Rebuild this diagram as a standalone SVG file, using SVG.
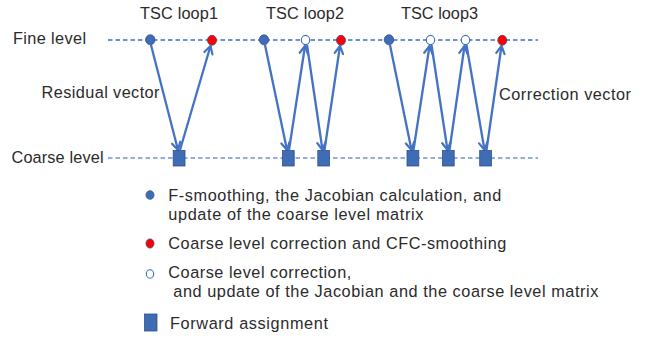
<svg xmlns="http://www.w3.org/2000/svg" width="648" height="338" viewBox="0 0 648 338">
  <style>
    .t { font-family: "Liberation Sans", Arial, sans-serif; font-size: 16.3px; fill: #2b2b2b; }
    .fine { stroke: #3F6EC0; stroke-width: 1.3; stroke-dasharray: 4.5 3; fill: none; }
    .coarse { stroke: #6F93D3; stroke-width: 1.3; stroke-dasharray: 4.5 3; fill: none; }
    .arr { stroke: #4472C4; stroke-width: 2.3; fill: none; marker-end: url(#ah); }
    .fb { fill: #3E6DB6; stroke: #2F528F; stroke-width: 0.8; }
    .fr { fill: #FF0000; stroke: #2F528F; stroke-width: 0.8; }
    .fo { fill: #FFFFFF; stroke: #3E6DB6; stroke-width: 1.1; }
    .sq { fill: #3E6DB6; stroke: #2F528F; stroke-width: 0.8; }
  </style>
  <defs>
    <marker id="ah" markerUnits="userSpaceOnUse" markerWidth="14" markerHeight="14" viewBox="-10 -7 14 14" refX="0" refY="0" orient="auto">
      <path d="M-7.5,-4.2 L0,0 L-7.5,4.2" fill="none" stroke="#4472C4" stroke-width="2.2" stroke-linejoin="round" stroke-linecap="round"/>
    </marker>
  </defs>
  <rect width="648" height="338" fill="#FFFFFF"/>

  <g id="labels">
    <text class="t" x="140" y="19" textLength="78" lengthAdjust="spacing">TSC loop1</text>
    <text class="t" x="266" y="19" textLength="78" lengthAdjust="spacing">TSC loop2</text>
    <text class="t" x="401" y="19" textLength="77" lengthAdjust="spacing">TSC loop3</text>
    <text class="t" x="13" y="44" textLength="73" lengthAdjust="spacing">Fine level</text>
    <text class="t" x="11.5" y="163" textLength="92" lengthAdjust="spacing">Coarse level</text>
    <text class="t" x="41.5" y="98" textLength="118" lengthAdjust="spacing">Residual vector</text>
    <text class="t" x="499" y="99.5" textLength="132" lengthAdjust="spacing">Correction vector</text>
  </g>

  <g id="levels">
    <line class="fine" x1="108" y1="40" x2="538" y2="40"/>
    <line class="coarse" x1="108" y1="158" x2="538" y2="158"/>
  </g>

  <g id="connectors">
    <line class="arr" x1="151" y1="45" x2="178" y2="150"/>
    <line class="arr" x1="180" y1="150" x2="210.5" y2="46"/>
    <line class="arr" x1="265" y1="45" x2="287" y2="150"/>
    <line class="arr" x1="289" y1="150" x2="305" y2="46"/>
    <line class="arr" x1="307" y1="45" x2="322.5" y2="150"/>
    <line class="arr" x1="324.5" y1="150" x2="340" y2="46"/>
    <line class="arr" x1="390" y1="45" x2="411.5" y2="150"/>
    <line class="arr" x1="413.5" y1="150" x2="429.5" y2="46"/>
    <line class="arr" x1="431.5" y1="45" x2="447.5" y2="150"/>
    <line class="arr" x1="449.5" y1="150" x2="464.5" y2="46"/>
    <line class="arr" x1="466.5" y1="45" x2="484.5" y2="150"/>
    <line class="arr" x1="486.5" y1="150" x2="501.5" y2="46"/>
  </g>

  <g id="fine-nodes">
    <g id="f1"><ellipse class="fb" cx="150.3" cy="39.8" rx="4.7" ry="5"/></g>
    <g id="f2"><ellipse class="fr" cx="212" cy="40.3" rx="4.5" ry="5"/></g>
    <g id="f3"><ellipse class="fb" cx="264" cy="39.8" rx="4.7" ry="5"/></g>
    <g id="f4"><ellipse class="fo" cx="305.5" cy="40" rx="4.2" ry="4.6"/></g>
    <g id="f5"><ellipse class="fr" cx="341" cy="40.3" rx="4.5" ry="5"/></g>
    <g id="f6"><ellipse class="fb" cx="389" cy="39.8" rx="4.7" ry="5"/></g>
    <g id="f7"><ellipse class="fo" cx="430.5" cy="40" rx="4.2" ry="4.6"/></g>
    <g id="f8"><ellipse class="fo" cx="465.5" cy="40" rx="4.2" ry="4.6"/></g>
    <g id="f9"><ellipse class="fr" cx="502.3" cy="40.3" rx="4.5" ry="5"/></g>
  </g>

  <g id="coarse-nodes">
    <g id="c1"><rect class="sq" x="173.2" y="150.5" width="11.8" height="15.5"/></g>
    <g id="c2"><rect class="sq" x="282.4" y="150.5" width="11.8" height="15.5"/></g>
    <g id="c3"><rect class="sq" x="317.8" y="150.5" width="11.8" height="15.5"/></g>
    <g id="c4"><rect class="sq" x="407" y="150.5" width="11.8" height="15.5"/></g>
    <g id="c5"><rect class="sq" x="442.4" y="150.5" width="11.8" height="15.5"/></g>
    <g id="c6"><rect class="sq" x="479.7" y="150.5" width="11.8" height="15.5"/></g>
  </g>

  <g id="legend">
    <g id="legend-blue">
      <ellipse class="fb" cx="150" cy="195" rx="4" ry="4.3"/>
      <text class="t" x="168.3" y="201" textLength="333" lengthAdjust="spacing">F-smoothing, the Jacobian calculation, and</text>
      <text class="t" x="168.3" y="220" textLength="255" lengthAdjust="spacing">update of the coarse level matrix</text>
    </g>
    <g id="legend-red">
      <ellipse class="fr" cx="150" cy="243.5" rx="4" ry="4.6"/>
      <text class="t" x="168.3" y="249" textLength="338" lengthAdjust="spacing">Coarse level correction and CFC-smoothing</text>
    </g>
    <g id="legend-open">
      <ellipse class="fo" cx="150" cy="274" rx="3.7" ry="4.2"/>
      <text class="t" x="168.3" y="278" textLength="183" lengthAdjust="spacing">Coarse level correction,</text>
      <text class="t" x="173.3" y="297" textLength="425" lengthAdjust="spacing">and update of the Jacobian and the coarse level matrix</text>
    </g>
    <g id="legend-square">
      <rect class="sq" x="144.5" y="314" width="12.5" height="17"/>
      <text class="t" x="170" y="329" textLength="158" lengthAdjust="spacing">Forward assignment</text>
    </g>
  </g>
</svg>
